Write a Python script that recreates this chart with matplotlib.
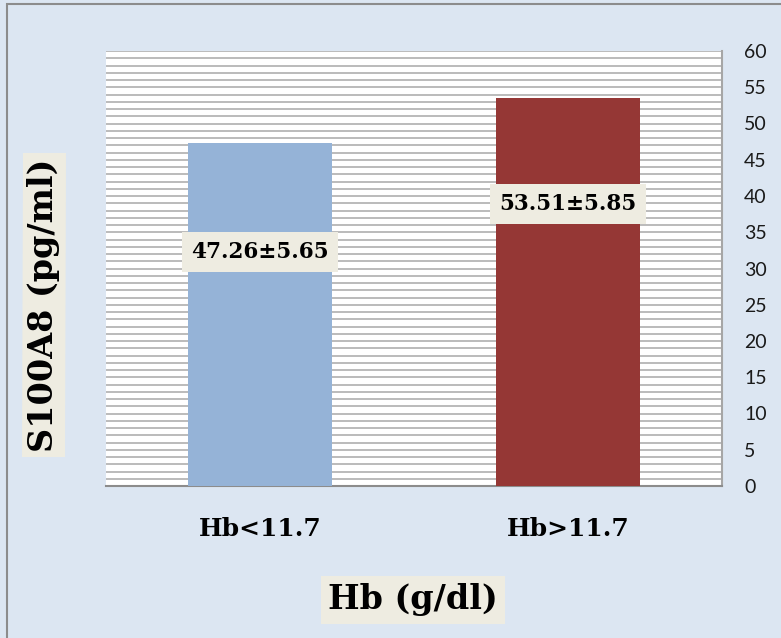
import matplotlib
matplotlib.use("Agg")
import matplotlib.pyplot as plt
import numpy as np
from matplotlib.patches import Rectangle

categories = ["Hb<11.7", "Hb>11.7"]
means = [47.26, 53.51]
sds = [5.65, 5.85]
label_y = [32.3, 38.9]
bar_colors = ["#95B3D7", "#953735"]
yticks = list(range(0, 61, 5))

fig = plt.figure(figsize=(7.81, 6.38), dpi=100, facecolor="#DCE6F2")
# outer border
fig.add_artist(Rectangle((7/781, -0.1), 1.2, (1 - 4/638) + 0.1, transform=fig.transFigure,
                         fill=False, edgecolor="#8C8C8C", linewidth=1.5))

ax = fig.add_axes([106/781, 1 - 486/638, 616/781, 435/638])
ax.set_facecolor("white")
x = np.arange(len(categories))
ax.set_xlim(-0.5, 1.5)
ax.set_ylim(0, 60)
for v in range(0, 61):
    ax.axhline(v, color="#B5B5B5", linewidth=1.3, zorder=1)
ax.bar(x, means, width=0.47, color=bar_colors, zorder=3)

for xi, m, s, ly in zip(x, means, sds, label_y):
    ax.text(xi, ly, f"{m:.2f}±{s:.2f}", ha="center", va="center", fontsize=15.5,
            fontweight="bold", family="DejaVu Serif", zorder=5,
            bbox=dict(boxstyle="square,pad=0.42", facecolor="#EEECE1", edgecolor="none"))

ax.yaxis.tick_right()
ax.set_yticks(yticks)
ax.tick_params(axis="y", length=0, labelsize=14, pad=16, labelcolor="#1A1A1A")
for lab in ax.get_yticklabels():
    lab.set_family("Lato")
ax.set_xticks(x)
ax.set_xticklabels(categories, fontsize=18, fontweight="bold", family="DejaVu Serif")
ax.tick_params(axis="x", length=0, pad=22)

for sp in ["left", "top"]:
    ax.spines[sp].set_visible(False)
ax.spines["right"].set_color("#A6A6A6")
ax.spines["right"].set_linewidth(1.5)
ax.spines["bottom"].set_color("#8C8C8C")
ax.spines["bottom"].set_linewidth(1.5)

fig.text(413/781, 1 - 600/638, "Hb (g/dl)", ha="center", va="center", fontsize=24,
         fontweight="bold", family="DejaVu Serif",
         bbox=dict(boxstyle="square,pad=0.22", facecolor="#EEECE1", edgecolor="none"))
fig.text(44/781, 1 - 305/638, "S100A8 (pg/ml)", ha="center", va="center", fontsize=24,
         fontweight="bold", family="DejaVu Serif", rotation=90,
         bbox=dict(boxstyle="square,pad=0.15", facecolor="#EEECE1", edgecolor="none"))

fig.savefig("out.png", dpi=100, facecolor=fig.get_facecolor())
